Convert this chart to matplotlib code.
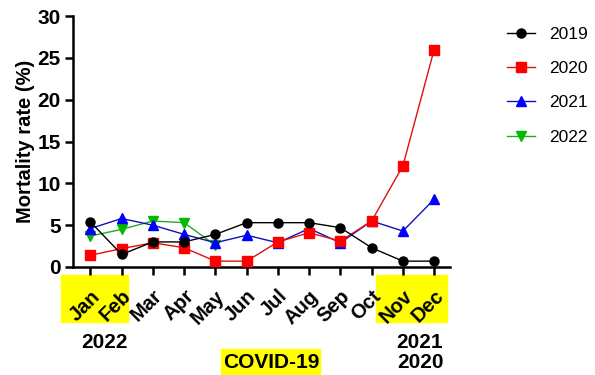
import matplotlib.pyplot as plt
from matplotlib.patches import Rectangle

plt.rcParams['font.family'] = ['Liberation Sans', 'DejaVu Sans']

months = ['Jan', 'Feb', 'Mar', 'Apr', 'May', 'Jun', 'Jul', 'Aug', 'Sep', 'Oct', 'Nov', 'Dec']
y2019 = [5.4, 1.5, 3.0, 3.0, 3.9, 5.3, 5.3, 5.3, 4.7, 2.3, 0.7, 0.7]
y2020 = [1.4, 2.2, 2.9, 2.3, 0.7, 0.7, 3.0, 4.1, 3.1, 5.5, 12.1, 26.0]
y2021 = [4.6, 5.8, 5.0, 3.9, 2.9, 3.8, 2.9, 4.6, 2.9, 5.5, 4.3, 8.1]
y2022 = [3.7, 4.5, 5.5, 5.3, 2.6]

fig = plt.figure(figsize=(5.95, 3.75), dpi=100)
ax = fig.add_axes([0.123, 0.288, 0.634, 0.669])

x = list(range(len(months)))
ax.plot(x, y2019, '-o', color='black', lw=1, ms=6.5, label='2019', zorder=4)
ax.plot(x, y2020, '-s', color='#dd1111', mfc='#ff0000', mec='#ff0000', lw=1, ms=6.5, label='2020', zorder=3)
ax.plot(x, y2021, '-^', color='#1111bb', mfc='#0000ff', mec='#0000ff', lw=1, ms=6.5, label='2021', zorder=2)
ax.plot(x[:len(y2022)], y2022, '-v', color='#22aa22', mfc='#00bb00', mec='#00bb00', lw=1, ms=6.5, label='2022', zorder=1)

ax.set_xlim(-0.55, 11.52)
ax.set_ylim(0, 30)
ax.set_yticks([0, 5, 10, 15, 20, 25, 30])
ax.set_xticks(x)
ax.set_xticklabels(months, rotation=45, ha='right', rotation_mode='anchor',
                   fontsize=14.5, fontweight='bold')
for t in ax.get_yticklabels():
    t.set_fontsize(15)
    t.set_fontweight('bold')
ax.set_ylabel('Mortality rate (%)', fontsize=14.5, fontweight='bold', labelpad=2)

ax.spines['top'].set_visible(False)
ax.spines['right'].set_visible(False)
ax.spines['left'].set_linewidth(1.8)
ax.spines['bottom'].set_linewidth(1.8)
ax.tick_params(width=1.8, length=6)
ax.tick_params(axis='x', pad=8)
ax.tick_params(axis='y', pad=3)

ax.legend(loc='upper left', bbox_to_anchor=(1.108, 1.02), frameon=False,
          fontsize=12.5, handlelength=1.6, handletextpad=0.85, labelspacing=1.1)

# yellow highlights
for (x0, y0, w, h) in [(61, 275, 67, 47), (376, 275, 71, 47), (221, 349, 99, 26)]:
    fig.patches.append(Rectangle((x0 / 595, 1 - (y0 + h) / 375), w / 595, h / 375,
                                 transform=fig.transFigure, color='#ffff00', zorder=-1))

fig.text(104 / 595, 1 - 342 / 375, '2022', ha='center', va='center', fontsize=15, fontweight='bold')
fig.text(420 / 595, 1 - 342 / 375, '2021', ha='center', va='center', fontsize=15, fontweight='bold')
fig.text(420 / 595, 1 - 363 / 375, '2020', ha='center', va='center', fontsize=15, fontweight='bold')
fig.text(271 / 595, 1 - 363 / 375, 'COVID-19', ha='center', va='center', fontsize=15, fontweight='bold')

fig.savefig('out.png', dpi=100)
